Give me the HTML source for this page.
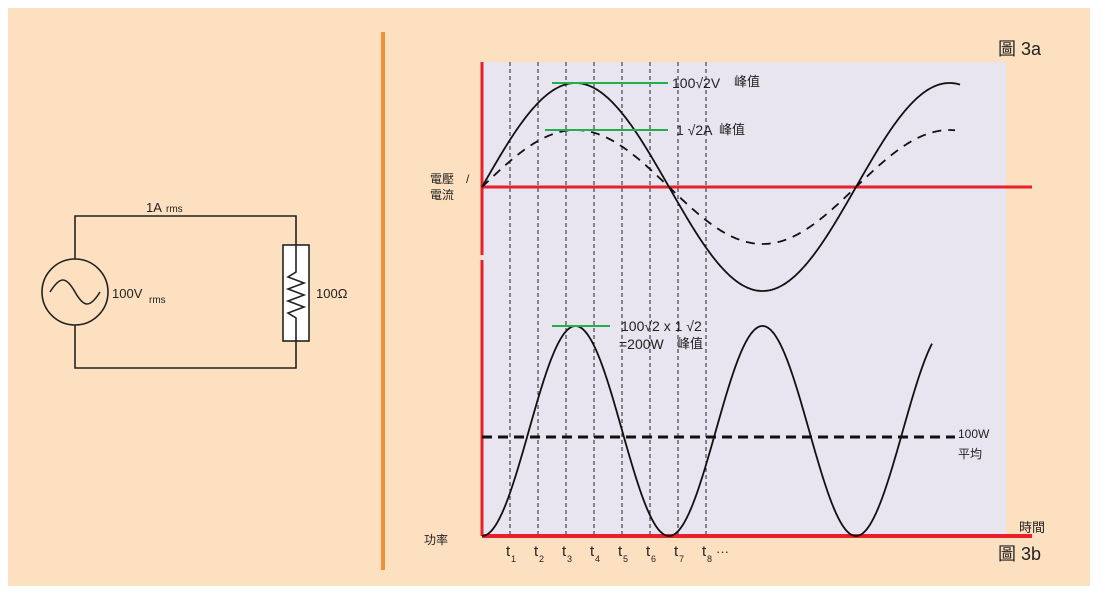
<!DOCTYPE html>
<html><head><meta charset="utf-8"><style>
html,body{margin:0;padding:0;background:#fff;}
svg{display:block;font-family:"Liberation Sans","Noto Sans CJK TC",sans-serif;}
</style></head><body>
<svg id="s" width="1101" height="594" viewBox="0 0 1101 594" xmlns="http://www.w3.org/2000/svg">
<rect x="8" y="8" width="1082" height="578" fill="#fde0c0"/>
<rect x="482" y="62" width="524" height="474" fill="#e8e4f0"/>
<line x1="383" y1="32" x2="383" y2="570" stroke="#f0913a" stroke-width="4"/>
<!-- circuit -->
<g stroke="#222" stroke-width="1.6" fill="none">
<polyline points="75,259 75,216 296,216 296,245"/>
<polyline points="75,325 75,368 296,368 296,341"/>
<circle cx="75" cy="292" r="33"/>
<path d="M50,292 C60,276 66,276 75,292 C84,308 90,308 100,292"/>
<rect x="283" y="245" width="26" height="96" fill="#fff"/>
<polyline points="296,245 296,272 288,277 304,283 288,289 304,295 288,301 304,307 288,313 296,318 296,341"/>
</g>
<text x="146" y="212" font-size="13" fill="#222">1A</text><text x="166" y="212" font-size="10" fill="#222">rms</text>
<text x="112" y="298" font-size="13" fill="#222">100V</text><text x="149" y="303" font-size="10" fill="#222">rms</text>
<text x="316" y="298" font-size="13" fill="#222">100Ω</text>
<!-- dashed verticals -->
<g id="vl" stroke="#222" stroke-width="1" stroke-dasharray="4,3"></g>
<!-- axes -->
<line x1="482" y1="187" x2="1032" y2="187" stroke="#e8202a" stroke-width="3"/>
<line x1="482" y1="536" x2="1032" y2="536" stroke="#e8202a" stroke-width="4"/>
<line x1="482" y1="62" x2="482" y2="255" stroke="#e8202a" stroke-width="3"/>
<line x1="482" y1="260" x2="482" y2="536" stroke="#e8202a" stroke-width="3"/>
<path id="v" fill="none" stroke="#111" stroke-width="1.8"/>
<path id="c" fill="none" stroke="#111" stroke-width="1.8" stroke-dasharray="9,7"/>
<path id="p" fill="none" stroke="#111" stroke-width="1.8"/>
<line x1="482" y1="437" x2="955" y2="437" stroke="#111" stroke-width="3" stroke-dasharray="10,6"/>
<g stroke="#22b04a" stroke-width="2">
<line x1="552" y1="83" x2="668" y2="83"/>
<line x1="545" y1="130" x2="668" y2="130"/>
<line x1="552" y1="326" x2="610" y2="326"/>
</g>
<g fill="#222" font-size="14">
<text x="672" y="88">100√2V</text><text x="734" y="86" font-size="13">峰值</text>
<text x="676" y="135">1 √2A</text><text x="719" y="134" font-size="13">峰值</text>
<text x="621" y="331">100√2 x 1 √2</text>
<text x="619" y="349">=200W</text><text x="677" y="348" font-size="13">峰值</text>
<text x="958" y="438" font-size="12">100W</text>
<text x="958" y="458" font-size="12">平均</text>
<text x="430" y="183" font-size="12">電壓</text><text x="466" y="183" font-size="12">/</text>
<text x="430" y="199" font-size="12">電流</text>
<text x="424" y="544" font-size="12">功率</text>
<text x="1019" y="532" font-size="13">時間</text>
<text x="998" y="55" font-size="18">圖 3a</text>
<text x="998" y="560" font-size="18">圖 3b</text>
</g>
<g id="tl" fill="#222"></g>
</svg>
<script>
var ns="http://www.w3.org/2000/svg";
var xs=[510,538,566,594,622,650,678,706];
var vl=document.getElementById('vl'),tl=document.getElementById('tl');
xs.forEach(function(x,i){
 var l=document.createElementNS(ns,'line');l.setAttribute('x1',x);l.setAttribute('x2',x);l.setAttribute('y1',62);l.setAttribute('y2',536);vl.appendChild(l);
 var t=document.createElementNS(ns,'text');t.setAttribute('x',x-4);t.setAttribute('y',556);t.setAttribute('font-size','15');t.textContent='t';tl.appendChild(t);
 var s=document.createElementNS(ns,'text');s.setAttribute('x',x+1);s.setAttribute('y',562);s.setAttribute('font-size','9');s.textContent=(i+1)+(i==7?'':'');tl.appendChild(s);
});
var d=document.createElementNS(ns,'text');d.setAttribute('x',716);d.setAttribute('y',556);d.setAttribute('font-size','13');d.textContent='···';tl.appendChild(d);
function path(f,x0,x1){var s='';for(var x=x0;x<=x1;x+=1){s+=(x==x0?'M':'L')+x+','+f(x).toFixed(1)+' ';}return s;}
var P=374;
document.getElementById('v').setAttribute('d',path(function(x){return 187-104*Math.sin(2*Math.PI*(x-482)/P);},482,960));
document.getElementById('c').setAttribute('d',path(function(x){return 187-57*Math.sin(2*Math.PI*(x-482)/P);},482,955));
document.getElementById('p').setAttribute('d',path(function(x){var s=Math.sin(2*Math.PI*(x-482)/P);return 536-210*s*s;},482,932));
</script>
</body></html>
